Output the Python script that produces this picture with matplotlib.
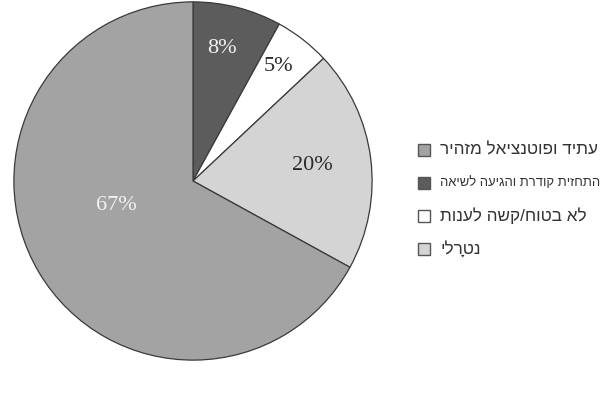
import unicodedata
import numpy as np
import matplotlib
matplotlib.use("Agg")
import matplotlib.pyplot as plt
from matplotlib.patches import Rectangle

# Data (clockwise from 12 o'clock)
labels = ["התחזית קודרת והגיעה לשיאה", "לא בטוח/קשה לענות", "נטרָלי", "עתיד ופוטנציאל מזהיר"]
values = [8, 5, 20, 67]
colors = ["#5c5c5c", "#ffffff", "#d4d4d4", "#a3a3a3"]
pct_colors = ["#f2f2f2", "#2a2a2a", "#2a2a2a", "#f2f2f2"]

# Legend order
legend_order = [3, 0, 1, 2]
legend_sizes = [12.3, 9.4, 12.3, 12.3]

# label placement style (radius fraction, angle offset in degrees)
label_r = [0.76, 0.80, 0.67, 0.45]
label_dang = [2, 1, 0, -13]


def visual(s):
    clusters = []
    for ch in s:
        if clusters and unicodedata.combining(ch):
            clusters[-1] += ch
        else:
            clusters.append(ch)
    return "".join(reversed(clusters))


fig = plt.figure(figsize=(6.13, 4.0), dpi=100)
fig.patch.set_facecolor("white")

cx, cy, r = 193 / 613, 1 - 181 / 400, 180
ax = fig.add_axes([cx - r / 613, cy - r / 400, 2 * r / 613, 2 * r / 400])
wedges, _ = ax.pie(values, colors=colors, startangle=90, counterclock=False,
                   wedgeprops=dict(edgecolor="#3a3a3a", linewidth=0.9), radius=1)
ax.set_xlim(-1.005, 1.005)
ax.set_ylim(-1.005, 1.005)
ax.set_aspect("equal")
ax.axis("off")

for i, w in enumerate(wedges):
    ang = np.deg2rad((w.theta1 + w.theta2) / 2 + label_dang[i])
    ax.text(label_r[i] * np.cos(ang), label_r[i] * np.sin(ang), f"{values[i]}%",
            ha="center", va="center", fontsize=16, color=pct_colors[i],
            family=["Liberation Serif", "DejaVu Serif"])

rows_y = [150, 183, 216, 249]
for k, idx in enumerate(legend_order):
    y = 1 - rows_y[k] / 400
    fig.patches.append(Rectangle((418 / 613, y - 6 / 400), 12 / 613, 12 / 400,
                                 transform=fig.transFigure, facecolor=colors[idx],
                                 edgecolor="#555555", linewidth=1.0))
    fig.text(440 / 613, y, visual(labels[idx]), ha="left", va="center",
             fontsize=legend_sizes[k], color="#333333",
             family=["Liberation Sans", "DejaVu Sans"])

fig.savefig("out.png", dpi=100, facecolor="white")
